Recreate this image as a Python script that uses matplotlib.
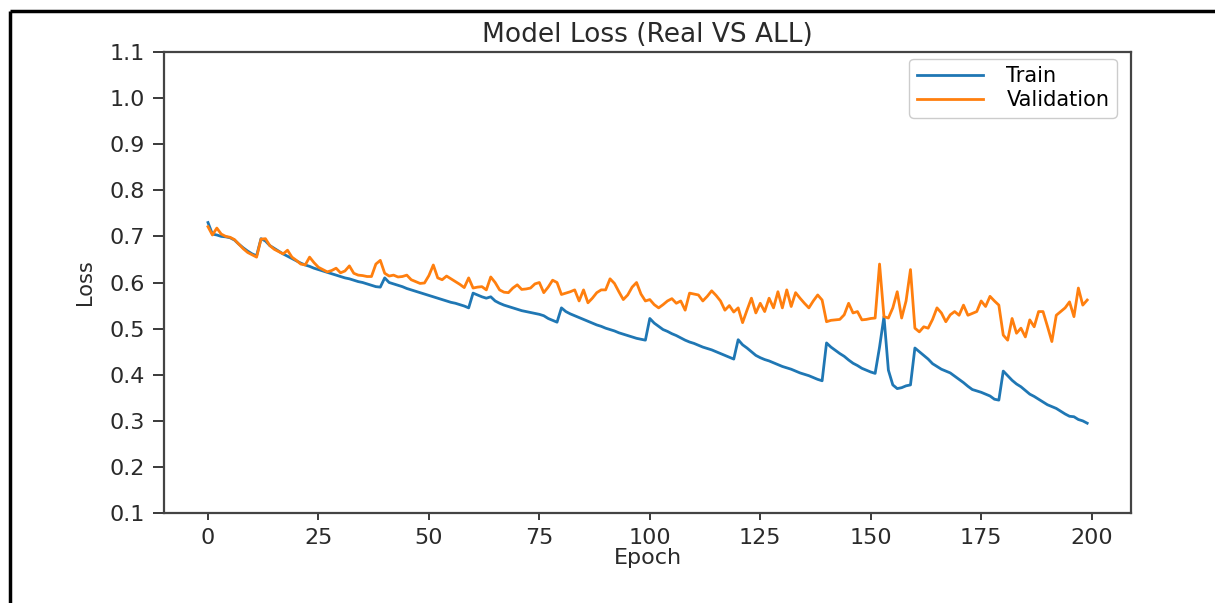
import matplotlib
matplotlib.use("Agg")
import matplotlib.pyplot as plt
from matplotlib.lines import Line2D

epochs = list(range(200))

train_loss = [
    0.730, 0.705, 0.703, 0.700, 0.699, 0.697, 0.692, 0.683, 0.675, 0.668,
    0.662, 0.658, 0.695, 0.690, 0.680, 0.674, 0.668, 0.662, 0.657, 0.652,
    0.647, 0.642, 0.638, 0.635, 0.631, 0.628, 0.625, 0.622, 0.619, 0.616,
    0.613, 0.610, 0.608, 0.605, 0.602, 0.600, 0.597, 0.594, 0.591, 0.590,
    0.610, 0.600, 0.597, 0.594, 0.591, 0.587, 0.584, 0.581, 0.578, 0.575,
    0.572, 0.569, 0.566, 0.563, 0.560, 0.557, 0.555, 0.552, 0.549, 0.545,
    0.577, 0.573, 0.569, 0.566, 0.569, 0.560, 0.555, 0.551, 0.548, 0.545,
    0.542, 0.539, 0.537, 0.535, 0.533, 0.531, 0.528, 0.522, 0.518, 0.514,
    0.545, 0.537, 0.532, 0.528, 0.524, 0.520, 0.516, 0.512, 0.508, 0.505,
    0.501, 0.498, 0.495, 0.491, 0.488, 0.485, 0.482, 0.479, 0.477, 0.475,
    0.522, 0.512, 0.505, 0.498, 0.494, 0.489, 0.485, 0.480, 0.475, 0.471,
    0.468, 0.464, 0.460, 0.457, 0.454, 0.450, 0.446, 0.442, 0.438, 0.434,
    0.476, 0.465, 0.458, 0.450, 0.442, 0.437, 0.433, 0.430, 0.426, 0.422,
    0.418, 0.415, 0.412, 0.408, 0.404, 0.401, 0.398, 0.394, 0.390, 0.387,
    0.469, 0.460, 0.453, 0.446, 0.440, 0.432, 0.425, 0.420, 0.414, 0.410,
    0.406, 0.403, 0.460, 0.526, 0.410, 0.378, 0.370, 0.372, 0.376, 0.378,
    0.458, 0.450, 0.442, 0.434, 0.424, 0.418, 0.412, 0.408, 0.404, 0.397,
    0.390, 0.383, 0.375, 0.368, 0.365, 0.362, 0.358, 0.354, 0.347, 0.345,
    0.408, 0.398, 0.388, 0.380, 0.374, 0.366, 0.358, 0.353, 0.347, 0.341,
    0.335, 0.331, 0.327, 0.321, 0.315, 0.310, 0.309, 0.303, 0.300, 0.295,
]

val_loss = [
    0.721, 0.703, 0.718, 0.705, 0.700, 0.698, 0.693, 0.683, 0.673, 0.665,
    0.660, 0.655, 0.694, 0.695, 0.680, 0.672, 0.667, 0.662, 0.670, 0.655,
    0.648, 0.640, 0.638, 0.655, 0.643, 0.633, 0.628, 0.623, 0.626, 0.631,
    0.621, 0.625, 0.636, 0.620, 0.616, 0.615, 0.613, 0.613, 0.640, 0.648,
    0.620, 0.614, 0.616, 0.612, 0.613, 0.616, 0.606, 0.602, 0.598, 0.599,
    0.615, 0.638, 0.610, 0.606, 0.614, 0.608, 0.602, 0.596, 0.589, 0.610,
    0.588, 0.590, 0.591, 0.584, 0.612, 0.600, 0.584, 0.579, 0.578, 0.588,
    0.595, 0.585, 0.586, 0.588, 0.597, 0.600, 0.578, 0.590, 0.605, 0.600,
    0.574, 0.577, 0.580, 0.584, 0.560, 0.584, 0.556, 0.566, 0.578, 0.584,
    0.584, 0.608, 0.598, 0.580, 0.563, 0.573, 0.590, 0.600, 0.575, 0.560,
    0.563, 0.552, 0.545, 0.552, 0.560, 0.565, 0.555, 0.560, 0.540, 0.577,
    0.575, 0.573, 0.560, 0.570, 0.582, 0.572, 0.560, 0.540, 0.550, 0.536,
    0.545, 0.513, 0.540, 0.566, 0.534, 0.555, 0.537, 0.566, 0.545, 0.580,
    0.545, 0.584, 0.548, 0.578, 0.566, 0.555, 0.545, 0.560, 0.573, 0.562,
    0.515, 0.518, 0.519, 0.520, 0.530, 0.555, 0.534, 0.537, 0.519, 0.520,
    0.522, 0.523, 0.640, 0.526, 0.523, 0.545, 0.580, 0.523, 0.560, 0.628,
    0.501, 0.493, 0.504, 0.501, 0.520, 0.545, 0.534, 0.515, 0.530, 0.537,
    0.529, 0.551, 0.529, 0.533, 0.537, 0.560, 0.548, 0.570, 0.560, 0.551,
    0.486, 0.475, 0.522, 0.490, 0.501, 0.482, 0.519, 0.504, 0.537, 0.537,
    0.505, 0.472, 0.529, 0.537, 0.545, 0.558, 0.526, 0.588, 0.551, 0.562,
]

y_ticks = [0.1, 0.2, 0.3, 0.4, 0.5, 0.6, 0.7, 0.8, 0.9, 1.0, 1.1]
x_ticks = [0, 25, 50, 75, 100, 125, 150, 175, 200]

plt.rcParams.update({"font.family": "DejaVu Sans"})

fig = plt.figure(figsize=(12.15, 6.03), dpi=100)
ax = fig.add_axes([0.135, 0.149, 0.796, 0.765])

ax.plot(epochs, train_loss, color="#1f77b4", linewidth=2.0, label="Train")
ax.plot(epochs, val_loss, color="#ff7f0e", linewidth=2.0, label="Validation")

ax.set_ylim(0.1, 1.1)
ax.set_yticks(y_ticks)
ax.set_yticklabels([f"{v:.1f}" for v in y_ticks])
ax.set_xticks(x_ticks)
ax.tick_params(axis="both", labelsize=16, colors="#2a2a2a", width=1.3)
ax.tick_params(axis="y", length=8, pad=6)
ax.tick_params(axis="x", length=5, pad=6)
for spine in ax.spines.values():
    spine.set_color("#444444")
    spine.set_linewidth(1.6)

ax.set_title("Model Loss (Real VS ALL)", fontsize=19, color="#2a2a2a", pad=7)
ax.set_xlabel("Epoch", fontsize=16, color="#2a2a2a", labelpad=0)
ax.set_ylabel("Loss", fontsize=15, color="#2a2a2a", labelpad=10)
ax.legend(loc="upper right", bbox_to_anchor=(0.985, 0.985), borderaxespad=0,
          fontsize=15, handlelength=3.2, handletextpad=1.1,
          labelspacing=0.2, borderpad=0.35, framealpha=1.0)

# outer box of the screenshot (top and left edges only)
fig.add_artist(Line2D([0.0082, 1.05], [0.9818, 0.9818], transform=fig.transFigure,
                      color="black", linewidth=2.5, solid_capstyle="butt"))
fig.add_artist(Line2D([0.0082, 0.0082], [-0.05, 0.9818], transform=fig.transFigure,
                      color="black", linewidth=2.5, solid_capstyle="butt"))

fig.savefig("out.png", dpi=100)
plt.close(fig)
